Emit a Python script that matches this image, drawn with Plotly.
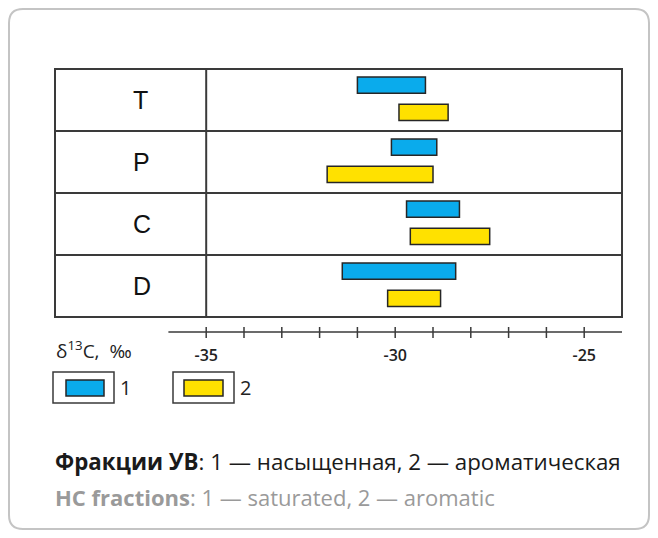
import plotly.graph_objects as go

# ---- data ----
periods = ["T", "P", "C", "D"]
sat_start = [-31.0, -30.1, -29.7, -31.4]
sat_end = [-29.2, -28.9, -28.3, -28.4]
aro_start = [-29.9, -31.8, -29.6, -30.2]
aro_end = [-28.6, -29.0, -27.5, -28.8]
x_range = [-39, -24]
axis_span = [-36, -24]
minor_ticks = list(range(-35, -24))
major_ticks = [-35, -30, -25]
major_labels = ["-35", "-30", "-25"]

BLUE = "#0AABEC"
YELLOW = "#FFE100"
EDGE = "#262626"
GRID = "#3a3a3a"

OFF = 8                      # page body margin
W, H = 658 - 2 * OFF, 538 - 2 * OFF
L, R, T, B = 55, 622, 69, 317  # plot area in window pixels


def xp(px):
    return (px - L) / (R - L)


def yp(py):
    return (B - py) / (B - T)


n = len(periods)
centers = [i + 0.5 for i in range(n)]

fig = go.Figure()
fig.add_trace(go.Bar(
    orientation="h",
    y=[c - 0.24 for c in centers],
    base=sat_start,
    x=[e - s for s, e in zip(sat_start, sat_end)],
    width=0.26,
    marker=dict(color=BLUE, line=dict(color=EDGE, width=1.5)),
    hoverinfo="skip",
))
fig.add_trace(go.Bar(
    orientation="h",
    y=[c + 0.2 for c in centers],
    base=aro_start,
    x=[e - s for s, e in zip(aro_start, aro_end)],
    width=0.26,
    marker=dict(color=YELLOW, line=dict(color=EDGE, width=1.5)),
    hoverinfo="skip",
))

shapes = []
# card
x0, x1, y0, y1, r = 9, 649, 9, 529, 14
path = (f"M {xp(x0 + r)},{yp(y0)} L {xp(x1 - r)},{yp(y0)} "
        f"Q {xp(x1)},{yp(y0)} {xp(x1)},{yp(y0 + r)} L {xp(x1)},{yp(y1 - r)} "
        f"Q {xp(x1)},{yp(y1)} {xp(x1 - r)},{yp(y1)} L {xp(x0 + r)},{yp(y1)} "
        f"Q {xp(x0)},{yp(y1)} {xp(x0)},{yp(y1 - r)} L {xp(x0)},{yp(y0 + r)} "
        f"Q {xp(x0)},{yp(y0)} {xp(x0 + r)},{yp(y0)} Z")
shapes.append(dict(type="path", path=path, xref="paper", yref="paper",
                   line=dict(color="#c4c4c4", width=2), fillcolor="white", layer="below"))
# table
shapes.append(dict(type="rect", xref="paper", yref="paper", x0=0, x1=1, y0=0, y1=1,
                   line=dict(color=GRID, width=2)))
shapes.append(dict(type="line", xref="x", yref="paper", x0=major_ticks[0], x1=major_ticks[0],
                   y0=0, y1=1, line=dict(color=GRID, width=2)))
for i in range(1, n):
    shapes.append(dict(type="line", xref="paper", yref="y", x0=0, x1=1, y0=i, y1=i,
                       line=dict(color=GRID, width=2)))
# bottom scale
shapes.append(dict(type="line", xref="x", yref="paper", x0=axis_span[0], x1=axis_span[1],
                   y0=yp(332), y1=yp(332), line=dict(color=GRID, width=1.5)))
for v in minor_ticks:
    shapes.append(dict(type="line", xref="x", yref="paper", x0=v, x1=v,
                       y0=yp(327), y1=yp(338), line=dict(color=GRID, width=1.5)))
# legend boxes
for (ox0, ox1, ix0, ix1, col) in [(53, 114, 66, 104, BLUE), (173, 234, 184, 223, YELLOW)]:
    shapes.append(dict(type="rect", xref="paper", yref="paper", x0=xp(ox0), x1=xp(ox1),
                       y0=yp(403), y1=yp(372), line=dict(color=GRID, width=1.5)))
    shapes.append(dict(type="rect", xref="paper", yref="paper", x0=xp(ix0), x1=xp(ix1),
                       y0=yp(396), y1=yp(380), fillcolor=col, line=dict(color=EDGE, width=1.5)))

ann = []
for c, p in zip(centers, periods):
    ann.append(dict(x=xp(131), y=c, xref="paper", yref="y", text=p, showarrow=False,
                    font=dict(family="Liberation Sans, Arial", size=25, color="#111")))
ann.append(dict(x=xp(54), y=yp(350), xref="paper", yref="paper", xanchor="left", yanchor="middle",
                text="δ<sup>13</sup>C,  ‰", showarrow=False,
                font=dict(family="Open Sans", size=19, color="#222")))
ann.append(dict(x=xp(118), y=yp(387), xref="paper", yref="paper", xanchor="left", yanchor="middle",
                text="1", showarrow=False, font=dict(family="Open Sans", size=20, color="#222")))
ann.append(dict(x=xp(238), y=yp(387), xref="paper", yref="paper", xanchor="left", yanchor="middle",
                text="2", showarrow=False, font=dict(family="Open Sans", size=20, color="#222")))
ann.append(dict(x=xp(53), y=yp(461), xref="paper", yref="paper", xanchor="left", yanchor="middle",
                text="<b>Фракции УВ</b>: 1 — насыщенная, 2 — ароматическая", showarrow=False,
                font=dict(family="Open Sans", size=22.3, color="#1a1a1a")))
ann.append(dict(x=xp(53), y=yp(497), xref="paper", yref="paper", xanchor="left", yanchor="middle",
                text="<b>HC fractions</b>: 1 — saturated, 2 — aromatic", showarrow=False,
                font=dict(family="Open Sans", size=22, color="#9a9a9a")))

fig.update_layout(
    width=W, height=H,
    margin=dict(l=L - OFF, r=(W + OFF) - R, t=T - OFF, b=(H + OFF) - B, pad=0),
    paper_bgcolor="white", plot_bgcolor="rgba(0,0,0,0)",
    barmode="overlay", showlegend=False,
    shapes=shapes, annotations=ann,
    xaxis=dict(range=x_range, showgrid=False, zeroline=False, showline=False,
               tickvals=major_ticks, ticktext=major_labels, ticks="",
               ticklabelstandoff=27,
               tickfont=dict(family="Open Sans", size=16, color="#222", weight=600)),
    yaxis=dict(range=[n, 0], showgrid=False, zeroline=False, showline=False,
               showticklabels=False, ticks=""),
)

fig.write_html("out.html")
